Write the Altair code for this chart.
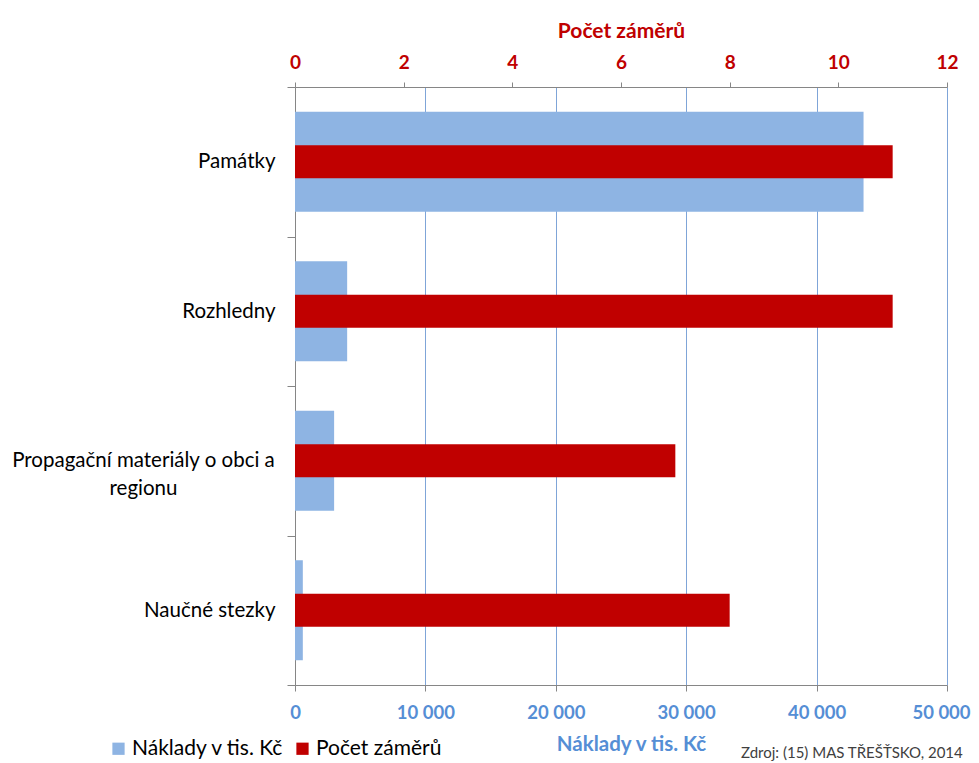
import altair as alt
import pandas as pd

categories = ["Památky", "Rozhledny", "Propagační materiály o obci a regionu", "Naučné stezky"]
naklady = [43600, 4000, 3000, 600]
pocet = [11, 11, 7, 8]
series_names = ["Náklady v tis. Kč", "Počet záměrů"]
colors = ["#8EB4E3", "#C00000"]
cost_ticks = [0, 10000, 20000, 30000, 40000, 50000]
count_ticks = [0, 2, 4, 6, 8, 10, 12]
source_note = "Zdroj: (15) MAS TŘEŠŤSKO, 2014"

df = pd.DataFrame({
    "kategorie": categories * 2,
    "serie": [series_names[0]] * len(categories) + [series_names[1]] * len(categories),
    "hodnota": naklady + pocet,
})

FONT = "Lato"
long_cat = categories[2]
is_long = "datum.value == '" + long_cat + "'"
label_expr = (
    is_long + " ? ['Propagační materiály o obci a', 'regionu'] : datum.value"
)

color_scale = alt.Scale(domain=series_names, range=colors)

y_enc = alt.Y(
    "kategorie:N",
    sort=categories,
    scale=alt.Scale(paddingInner=0, paddingOuter=0),
    axis=alt.Axis(
        title=None, labelFontSize=20.5, labelColor="#000000", labelFont=FONT,
        labelPadding={"condition": {"test": is_long, "value": 144}, "value": 12},
        labelAlign={"condition": {"test": is_long, "value": "center"}, "value": "right"},
        tickBand="extent", tickSize=8, tickColor="#868686",
        domainColor="#868686", labelExpr=label_expr, labelLineHeight=28,
        labelLimit=400,
    ),
)

blue = alt.Chart(df).transform_filter(
    alt.datum.serie == series_names[0]
).mark_bar(size=100).encode(
    x=alt.X(
        "hodnota:Q",
        scale=alt.Scale(domain=[0, 50000], nice=False),
        axis=alt.Axis(
            orient="bottom", values=cost_ticks, title=series_names[0],
            labelExpr="replace(format(datum.value, ','), ',', ' ')",
            labelFont=FONT, labelFontSize=18.5, labelFontWeight="bold", labelColor="#558ED5",
            labelOffset={"condition": {"test": "datum.value == 50000", "value": -6}, "value": 0},
            titleFont=FONT, titleFontSize=20.5, titleFontWeight="bold", titleColor="#558ED5",
            titlePadding=13, titleX=336, labelPadding=12, tickSize=6, tickColor="#868686",
            domainColor="#868686", grid=True, gridColor="#7FA5D8", gridWidth=1,
            labelFlush=False,
        ),
    ),
    y=y_enc,
    color=alt.Color(
        "serie:N", scale=color_scale,
        legend=alt.Legend(
            orient="none", legendX=-187, legendY=651, direction="horizontal",
            title=None, symbolType="square", symbolSize=150, symbolStrokeWidth=0,
            labelFont=FONT, labelFontSize=21, labelColor="#000000",
            columnPadding=8, labelOffset=3, labelLimit=300,
        ),
    ),
)

red = alt.Chart(df).transform_filter(
    alt.datum.serie == series_names[1]
).mark_bar(size=33).encode(
    x=alt.X(
        "hodnota:Q",
        scale=alt.Scale(domain=[0, 12], nice=False),
        axis=alt.Axis(
            orient="top", values=count_ticks, title=series_names[1],
            labelFont=FONT, labelFontSize=19, labelFontWeight="bold", labelColor="#C00000",
            titleFont=FONT, titleFontSize=21, titleFontWeight="bold", titleColor="#C00000",
            titlePadding=12, labelPadding=10, tickSize=5, tickColor="#868686",
            domainColor="#868686", grid=False, labelFlush=False,
        ),
    ),
    y=y_enc,
    color=alt.Color("serie:N", scale=color_scale),
)

note = alt.Chart(pd.DataFrame({"t": [source_note]})).mark_text(
    align="left", baseline="middle", fontSize=15, font=FONT, color="#404040"
).encode(text="t:N", x=alt.value(446), y=alt.value(666))

chart = alt.layer(blue, red, note).resolve_scale(x="independent").properties(
    width=652, height=598,
    autosize=alt.AutoSizeParams(type="none"),
    padding={"left": 287, "top": 79, "right": 24, "bottom": 90},
).configure_view(stroke=None).configure_axis(domainWidth=1)

chart.save("out.html", embed_options={"renderer": "svg", "actions": False})
